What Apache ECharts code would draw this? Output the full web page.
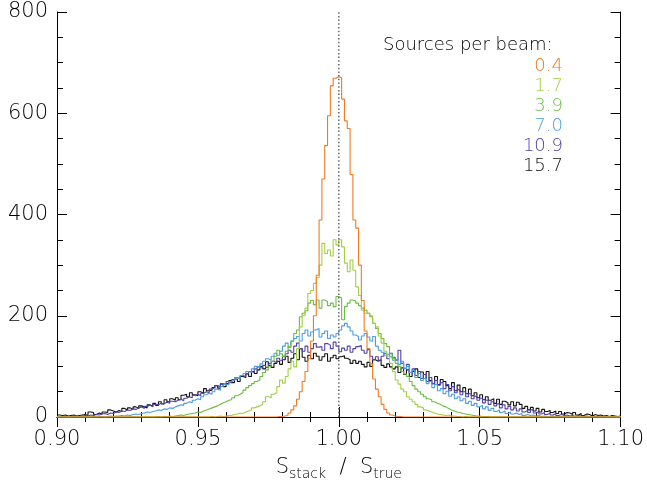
<!DOCTYPE html>
<html>
<head>
<meta charset="utf-8">
<script src="https://cdn.jsdelivr.net/npm/echarts@6/dist/echarts.min.js"></script>
<style>
html,body{margin:0;padding:0;background:#fff;}
#chart{width:647px;height:486px;}
</style>
</head>
<body>
<div id="chart"></div>
<script>
// Histogram bins: width 0.001, from 0.900 to 1.100
const binWidth = 0.001;
const xMin = 0.90, xMax = 1.10;
const nBins = 200;

// Legend labels (sources per beam) and colours
const seriesNames = ['0.4', '1.7', '3.9', '7.0', '10.9', '15.7'];
const seriesColors = ['#f07a22', '#a2cf45', '#6cbb45', '#4c9de0', '#5242a5', '#111111'];

// left edge of first listed bin for each series
const seriesStarts = [0.978, 0.954, 0.935, 0.912, 0.900, 0.900];

const s04 = [1,1,2,4,8,14,22,35,50,70,90,115,150,200,280,389,470,536,595,654,669,672,670,628,585,570,479,389,373,300,230,170,135,105,75,55,40,25,15,8,4,2,1,1];

const s17 = [1,0,1,2,1,2,3,3,5,6,8,7,10,12,14,18,20,22,25,30,40,38,45,48,60,73,67,80,95,110,99,135,178,200,215,244,250,264,275,300,343,323,330,318,350,340,350,336,304,287,310,290,257,240,211,205,205,200,185,178,160,146,130,120,106,90,73,65,55,50,40,35,30,25,20,18,14,12,10,8,6,5,4,3,4,2,2,1,1,0,1];

const s39 = [1,0,1,1,2,1,2,3,4,3,5,6,7,8,10,9,12,14,16,18,20,22,25,28,30,33,34,38,42,45,48,53,58,62,66,70,73,80,88,93,100,110,120,132,125,119,130,139,150,165,172,198,205,210,225,230,222,231,215,231,228,220,225,218,238,235,192,218,225,231,229,225,220,215,211,205,198,185,175,165,155,145,139,125,115,106,100,90,85,80,70,62,55,50,45,40,36,34,30,27,25,22,20,17,14,12,10,9,7,6,5,4,3,2,2,1,1,1];

const s70 = [1,0,1,1,0,1,2,1,2,2,3,2,4,3,5,6,5,7,8,10,9,11,12,14,13,16,15,18,17,20,22,24,23,27,30,28,33,36,34,40,44,47,45,50,55,53,60,65,63,70,73,78,75,82,86,90,88,95,100,98,105,110,115,112,120,126,122,130,140,146,138,150,155,159,150,165,172,160,168,172,175,158,165,170,155,162,158,165,172,180,185,178,170,162,159,152,160,165,158,150,159,140,132,128,122,125,119,112,
  115,104,110,96,100,88,92,78,86,72,76,66,70,58,64,52,56,46,51,41,45,36,40,32,36,27,31,23,27,20,23,16,20,13,17,11,14,9,12,7,10,6,8,5,7,3,5,3,4,2,3,1,2,1,1,2,0,1];

const s109 = [0,0,1,0,1,1,2,1,2,3,2,4,3,5,4,6,7,5,8,7,10,9,12,11,14,13,16,15,18,20,17,21,23,20,25,24,27,26,29,27,31,30,33,35,32,37,40,38,43,45,42,47,50,48,55,58,62,60,66,64,70,67,74,78,76,82,80,86,90,88,95,99,96,102,98,106,110,107,116,112,120,125,132,128,140,146,135,130,140,128,135,145,138,139,132,145,142,135,148,140,129,136,132,140,128,135,139,141,132,126,133,120,113,119,112,120,126,115,126,118,112,132,
  106,96,104,88,95,82,90,76,84,70,78,66,72,63,68,56,64,52,60,48,54,44,50,40,46,36,41,33,37,28,33,25,30,22,26,18,24,16,21,14,18,12,16,10,13,9,14,8,11,6,9,5,8,4,7,3,5,3,4,2,3,1,3,2,1,2,1,0,1,1,0,1,0,0,1,0,0,0];

const s157 = [4,3,4,2,3,4,2,3,4,5,3,10,9,5,8,6,10,9,14,12,10,13,11,17,14,18,15,20,17,22,20,18,24,21,27,23,30,26,34,30,36,33,38,34,43,45,40,48,44,42,50,47,56,52,53,58,62,57,65,60,66,72,68,75,70,80,78,85,80,90,86,93,100,95,109,102,98,106,110,104,113,120,108,116,125,113,135,118,110,122,115,126,120,112,119,125,110,117,122,115,119,121,116,113,106,112,106,110,104,99,108,100,113,110,113,102,98,105,99,95,
  99,88,97,84,93,80,90,95,78,89,76,90,72,66,80,64,74,70,62,56,68,52,63,50,58,46,55,42,48,38,44,34,40,33,36,27,35,25,31,28,24,30,22,29,25,17,21,14,19,12,17,10,15,11,13,9,12,7,11,6,9,8,5,9,4,7,3,6,5,2,5,3,4,2,3,1,3,2,1,2];

const seriesValues = [s04, s17, s39, s70, s109, s157];

// axis ticks
const yMin = 0, yMax = 800, yInterval = 200;
const xInterval = 0.05;
const refLine = 1.00;

function fullBins(start, vals) {
  const out = new Array(nBins).fill(0);
  const off = Math.round((start - xMin) / binWidth);
  vals.forEach((v, i) => { if (off + i >= 0 && off + i < nBins) out[off + i] = v; });
  return out;
}
function toSteps(bins) {
  const pts = bins.map((v, i) => [+(xMin + i * binWidth).toFixed(4), v]);
  pts.push([xMax, bins[bins.length - 1]]);
  return pts;
}

const font = 'DejaVu Sans';
const txtColor = '#000';
const series = [];
for (let k = seriesValues.length - 1; k >= 0; k--) {
  series.push({
    name: seriesNames[k],
    type: 'line',
    step: 'end',
    symbol: 'none',
    silent: true,
    xAxisIndex: 0, yAxisIndex: 0,
    lineStyle: { color: seriesColors[k], width: 1.1 },
    data: toSteps(fullBins(seriesStarts[k], seriesValues[k]))
  });
}
series.push({
  type: 'line', symbol: 'none', silent: true,
  xAxisIndex: 0, yAxisIndex: 0,
  lineStyle: { color: '#666', width: 1.5, type: [1.5, 2.2] },
  data: [[refLine, yMin], [refLine, yMax]]
});

const graphic = [{
  type: 'text', left: 383, top: 36,
  style: { text: 'Sources per beam:', font: '300 18px "' + font + '"', fill: txtColor }
}];
seriesNames.forEach((n, i) => {
  graphic.push({
    type: 'text', right: 647 - 563, top: 57 + i * 20.1,
    style: { text: n, font: '300 18px "' + font + '"', fill: seriesColors[i], textAlign: 'right' }
  });
});

const axisCommon = {
  axisLine: { show: true, lineStyle: { color: '#000', width: 1 } },
  splitLine: { show: false },
  minorSplitLine: { show: false }
};

const option = {
  animation: false,
  backgroundColor: '#fff',
  grid: { left: 57, right: 24, top: 12, bottom: 69 },
  graphic: graphic,
  xAxis: [
    Object.assign({}, axisCommon, {
      type: 'value', position: 'bottom', min: xMin, max: xMax, interval: xInterval,
      axisTick: { inside: true, length: 10, lineStyle: { color: '#000' } },
      minorTick: { show: true, splitNumber: 5, length: 5, lineStyle: { color: '#000' } },
      axisLabel: { margin: 12, fontSize: 21, fontFamily: font, fontWeight: 300, color: txtColor,
        formatter: v => v.toFixed(2) },
      name: '{a|S}{b|stack}{a|  /  S}{b|true}',
      nameLocation: 'middle', nameGap: 38,
      nameTextStyle: { rich: {
        a: { fontSize: 21, fontFamily: font, fontWeight: 300, color: txtColor },
        b: { fontSize: 14, fontFamily: font, fontWeight: 300, color: txtColor, padding: [12, 0, 0, 0] }
      } }
    }),
    Object.assign({}, axisCommon, {
      type: 'value', position: 'top', min: xMin, max: xMax, interval: xInterval,
      axisTick: { inside: true, length: 10, lineStyle: { color: '#000' } },
      minorTick: { show: true, splitNumber: 5, length: 5, lineStyle: { color: '#000' } },
      axisLabel: { show: false }
    })
  ],
  yAxis: [
    Object.assign({}, axisCommon, {
      type: 'value', position: 'left', min: yMin, max: yMax, interval: yInterval,
      axisTick: { inside: true, length: 10, lineStyle: { color: '#000' } },
      minorTick: { show: true, splitNumber: 4, length: 6, lineStyle: { color: '#000' } },
      axisLabel: { margin: 9, fontSize: 21, fontFamily: font, fontWeight: 300, color: txtColor }
    }),
    Object.assign({}, axisCommon, {
      type: 'value', position: 'right', min: yMin, max: yMax, interval: yInterval,
      axisTick: { inside: true, length: 10, lineStyle: { color: '#000' } },
      minorTick: { show: true, splitNumber: 4, length: 6, lineStyle: { color: '#000' } },
      axisLabel: { show: false }
    })
  ],
  series: series
};

const chart = echarts.init(document.getElementById('chart'), null, { renderer: 'canvas' });
chart.setOption(option);
</script>
</body>
</html>
